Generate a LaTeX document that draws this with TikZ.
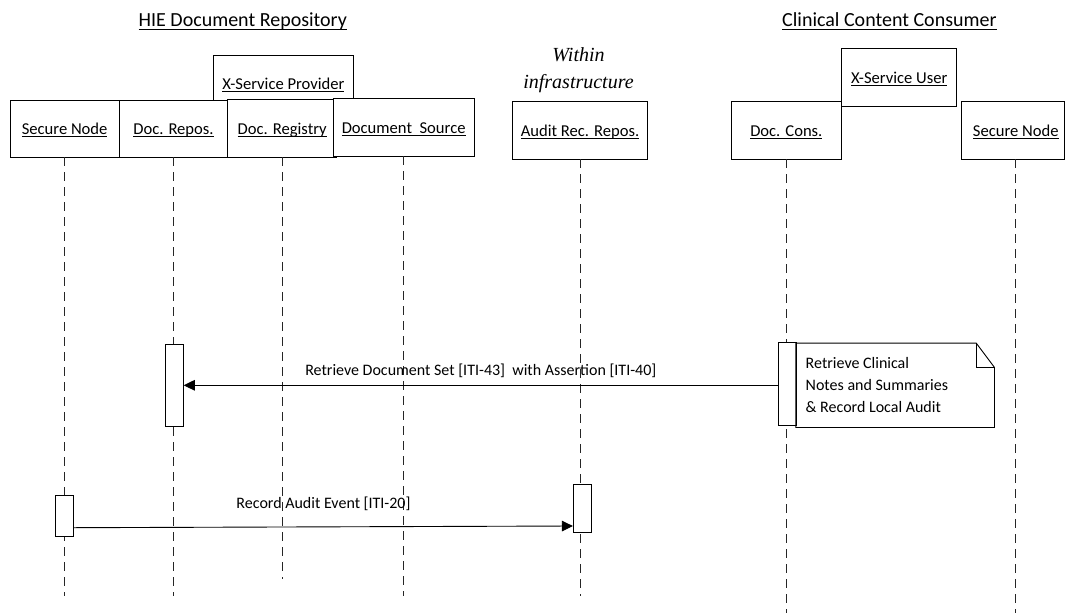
\documentclass[tikz,border=0pt]{standalone}
\usepackage{fontspec}
\setmainfont{Carlito}
\newfontfamily\captionserif{Liberation Serif}
\usetikzlibrary{arrows.meta}

% underlined label text (thin rule just below the baseline)
\newcommand\ulbox[1]{\setbox0\hbox{#1}\rlap{\vrule width\wd0 height -1.8pt depth 2.8pt}\box0}
\newcommand\ulhead[1]{\setbox0\hbox{#1}\rlap{\vrule width\wd0 height -2.0pt depth 3.3pt}\box0}

\begin{document}
\begin{tikzpicture}[x=1pt,y=-1pt,
  box/.style={draw=black,fill=white,line width=0.9pt,inner sep=0pt,
    text height=13pt,text depth=1pt,font=\fontsize{16.6}{19}\selectfont},
  actbar/.style={draw=black,fill=white,line width=0.9pt,inner sep=0pt,minimum width=18pt},
  lifeline/.style={draw=black!85,line width=0.9pt,dash pattern=on 9pt off 6pt},
  msg/.style={draw=black,line width=0.9pt,-{Triangle[length=11pt,width=10.6pt]}},
  lbl/.style={font=\fontsize{16}{19}\selectfont,anchor=base,inner sep=0pt},
  head/.style={font=\fontsize{20}{24}\selectfont,anchor=base,inner sep=0pt},
  notetext/.style={inner xsep=9.7pt,inner ysep=0pt,text width=178.9pt,align=flush left,
    font=\fontsize{16}{22}\selectfont,minimum width=198.3pt,minimum height=84pt},
]
\useasboundingbox (0,0) rectangle (1065,613);

% group headings
\node[head] (hie) at (242.8,27) {\ulhead{HIE Document Repository}};
\node[head] (ccc) at (889.4,27) {\ulhead{Clinical Content Consumer}};
\node[anchor=base,inner sep=0pt,align=center,font=\captionserif\itshape\fontsize{20}{27.3}\selectfont]
  (infra) at (578.5,88.3) {Within\\infrastructure};

% actor boxes (the upper boxes first, so the lower row covers them)
\node[box,minimum width=139.8pt,minimum height=56pt] (xsp) at (283.4,83) {\ulbox{X-Service Provider}};
\node[box,minimum width=115pt,minimum height=57.7pt] (xsu) at (899.2,77.15) {\ulbox{X-Service User}};
\node[box,minimum width=109.3pt,minimum height=57pt] (sn1) at (64.65,128.5) {\ulbox{Secure Node}};
\node[box,minimum width=108.4pt,minimum height=57pt] (rep) at (173.5,128.5) {\ulbox{Doc. Repos.}};
\node[box,minimum width=109pt,minimum height=57.7pt] (reg) at (282.2,128.15) {\ulbox{Doc. Registry}};
\node[box,minimum width=141.3pt,minimum height=57.3pt] (src) at (403.65,127.35) {\ulbox{Document~ Source}};
\node[box,minimum width=135.4pt,minimum height=57.3pt] (aud) at (580,130.35) {\ulbox{Audit Rec. Repos.}};
\node[box,minimum width=109.3pt,minimum height=58pt] (cons) at (786.35,130) {\ulbox{Doc. Cons.}};
\node[box,minimum width=103pt,minimum height=58pt] (sn2) at (1012.5,130) {\hspace*{6.4pt}\ulbox{Secure Node}};

% lifelines
\coordinate (sn2foot) at ([xshift=3.2pt]sn2.south);
\draw[lifeline] (sn1.south) -- (sn1.south |- 0,596);
\draw[lifeline] (rep.south) -- (rep.south |- 0,596);
\draw[lifeline] (reg.south) -- (reg.south |- 0,579);
\draw[lifeline] (src.south) -- (src.south |- 0,596);
\draw[lifeline] (aud.south) -- (aud.south |- 0,596);
\draw[lifeline] (cons.south) -- (cons.south |- 0,613);
\draw[lifeline] (sn2foot) -- (sn2foot |- 0,613);

% activation bars
\node[actbar,minimum width=18.3pt,minimum height=82.7pt] (actrep) at (174.15,385.35) {};
\node[actbar,minimum width=17.7pt,minimum height=82.3pt] (actcons) at (787.15,383.85) {};
\node[actbar,minimum width=18pt,minimum height=41pt] (actsn) at (64.7,515.5) {};
\node[actbar,minimum width=17.7pt,minimum height=48.4pt] (actaud) at (582.15,508.5) {};

% note with folded corner
\node[notetext] (note) at (895.15,385.3)
  {Retrieve Clinical\\Notes and Summaries\\\&\ Record Local Audit};
\draw[line width=0.9pt,line join=miter]
  (note.north west) -- ([xshift=-18.3pt]note.north east)
  -- ([yshift=-24.4pt]note.north east) -- (note.south east)
  -- (note.south west) -- cycle;
\draw[line width=0.9pt]
  ([xshift=-18.3pt]note.north east) -- ([xshift=-18.3pt,yshift=-24.4pt]note.north east)
  -- ([yshift=-24.4pt]note.north east);

% messages
\draw[msg] (actcons.west |- 0,385.3) -- (actrep.east |- 0,385.3)
  node[lbl,pos=0.5,yshift=10.3pt] (m1) {Retrieve Document Set [ITI-43]~ with Assertion [ITI-40]};
\draw[msg] (actsn.east |- 0,527.7) -- (actaud.west |- 0,526)
  node[lbl,pos=0.5,yshift=18pt] (m2) {Record Audit Event [ITI-20]};
\end{tikzpicture}
\end{document}
